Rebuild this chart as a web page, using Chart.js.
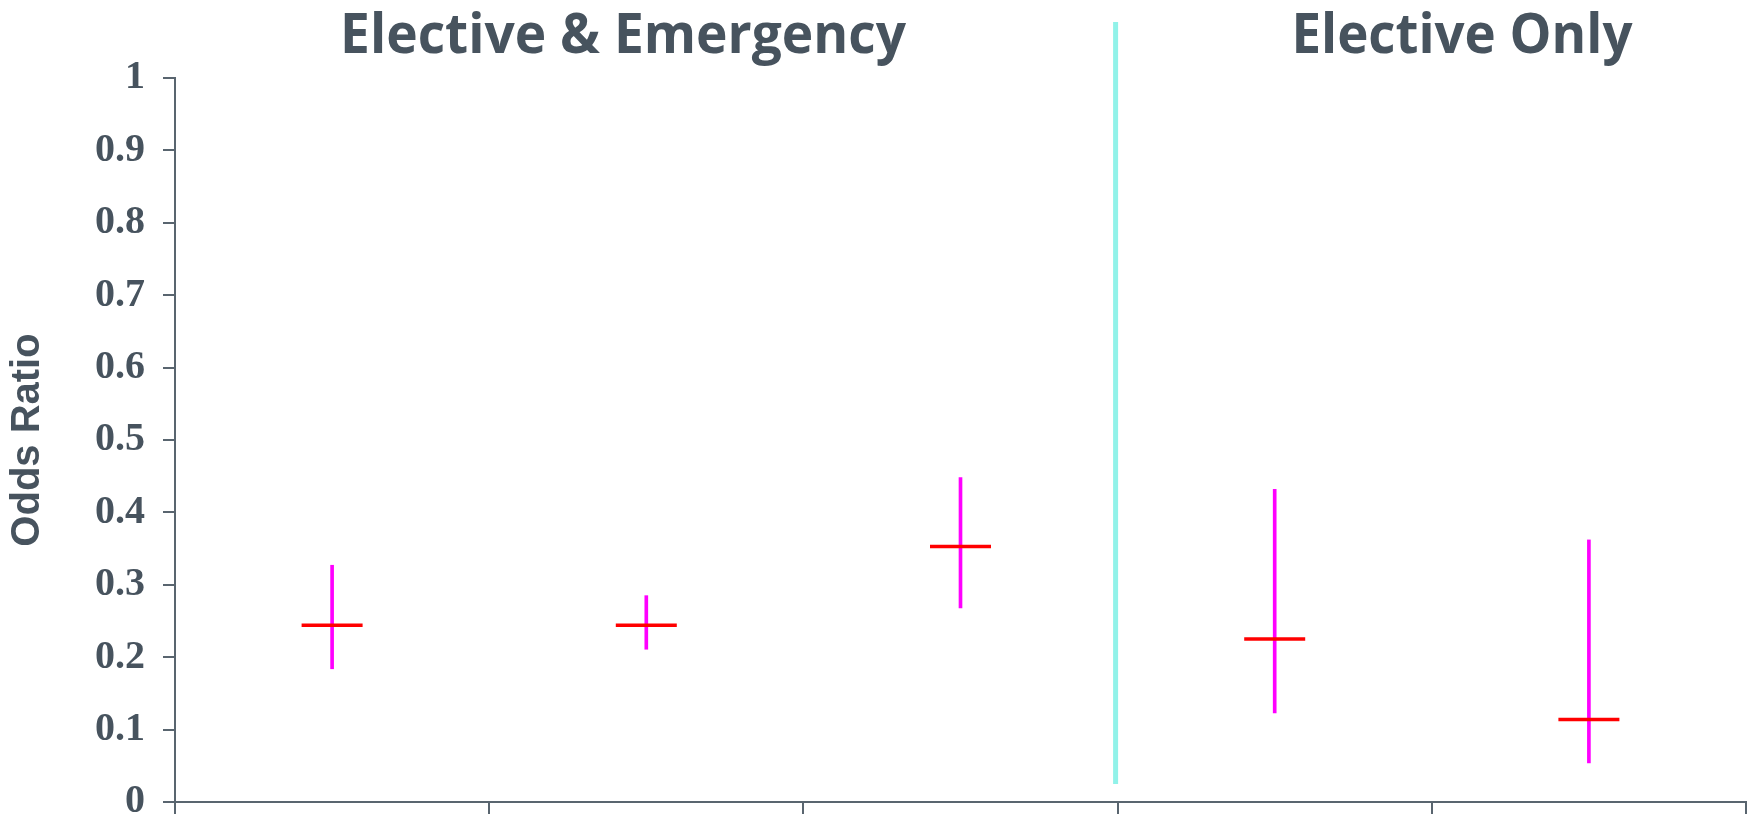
<!DOCTYPE html>
<html>
<head>
<meta charset="utf-8">
<script src="https://cdn.jsdelivr.net/npm/chart.js@4/dist/chart.umd.min.js"></script>
<style>
  html, body { margin: 0; padding: 0; background: #fff; overflow: hidden; }
  #wrap { width: 1749px; height: 822px; position: relative; }
  canvas { display: block; }
</style>
</head>
<body>
<div id="wrap"><canvas id="c" width="1749" height="822"></canvas></div>
<script>
// ---- data ----
const categories = ["Group 1", "Group 2", "Group 3", "Group 4", "Group 5"];
const oddsRatio  = [0.244, 0.244, 0.353, 0.225, 0.114];
const ciLower    = [0.184, 0.211, 0.268, 0.123, 0.054];
const ciUpper    = [0.327, 0.285, 0.448, 0.432, 0.362];
const groupTitles = ["Elective & Emergency", "Elective Only"];
const yTickValues = [0, 0.1, 0.2, 0.3, 0.4, 0.5, 0.6, 0.7, 0.8, 0.9, 1];

const TEXT = '#47535e';
const AXIS = '#59656f';

const decorPlugin = {
  id: 'decor',
  afterDraw(chart) {
    const ctx = chart.ctx;
    const xs = chart.scales.x, ys = chart.scales.y;
    // divider between the two groups
    const dx = xs.getPixelForValue(2.5) - 2;
    ctx.save();
    ctx.strokeStyle = 'rgb(145,242,233)';
    ctx.lineWidth = 5;
    ctx.beginPath();
    ctx.moveTo(dx, 22);
    ctx.lineTo(dx, ys.getPixelForValue(0.025));
    ctx.stroke();
    // group titles
    ctx.fillStyle = TEXT;
    ctx.font = 'bold 56px "Open Sans"';
    ctx.textAlign = 'center';
    ctx.textBaseline = 'alphabetic';
    ctx.fillText(groupTitles[0], xs.getPixelForValue(0.926), 53, 566);
    ctx.fillText(groupTitles[1], xs.getPixelForValue(3.596), 53, 341);
    ctx.restore();
  }
};

function zeroPad(s) { s.paddingTop = 0; s.paddingBottom = 0; s.paddingLeft = 0; s.paddingRight = 0; }

new Chart(document.getElementById('c'), {
  data: {
    labels: categories,
    datasets: [
      {
        type: 'scatter',
        label: 'Odds ratio',
        data: oddsRatio.map((v, i) => ({ x: categories[i], y: v })),
        pointStyle: 'line',
        pointRadius: 30.5,
        pointHoverRadius: 30.5,
        borderColor: '#ff0000',
        backgroundColor: '#ff0000',
        pointBorderWidth: 3.5,
        borderWidth: 3.5,
        showLine: false,
        order: 0
      },
      {
        type: 'bar',
        label: '95% CI',
        data: ciLower.map((lo, i) => [lo, ciUpper[i]]),
        backgroundColor: '#ff00ff',
        borderWidth: 0,
        barThickness: 3,
        grouped: false,
        order: 1
      }
    ]
  },
  options: {
    responsive: false,
    animation: false,
    events: [],
    layout: { autoPadding: false, padding: { top: 78, bottom: 8, left: 0, right: 3 } },
    plugins: { legend: { display: false }, tooltip: { enabled: false }, title: { display: false } },
    scales: {
      x: {
        type: 'category',
        offset: true,
        afterFit: zeroPad,
        grid: { display: true, offset: true, drawOnChartArea: false, drawTicks: true, tickLength: 12, color: AXIS, lineWidth: 2 },
        border: { display: true, color: AXIS, width: 2 },
        ticks: { display: false }
      },
      y: {
        min: 0, max: 1,
        afterFit(s) { s.width = 175; zeroPad(s); },
        afterBuildTicks(s) { s.ticks = yTickValues.map(v => ({ value: v })); },
        grid: { display: true, drawOnChartArea: false, drawTicks: true, tickLength: 12, color: AXIS, lineWidth: 2 },
        border: { display: true, color: AXIS, width: 2 },
        ticks: {
          padding: 18,
          color: TEXT,
          font: { family: '"Liberation Serif"', size: 40, weight: 'bold' },
          callback: v => String(v)
        },
        title: {
          display: true,
          text: 'Odds Ratio',
          color: TEXT,
          font: { family: '"Liberation Sans"', size: 40, weight: 'bold' },
          padding: { top: 4, bottom: 0 }
        }
      }
    }
  },
  plugins: [decorPlugin]
});
</script>
</body>
</html>
